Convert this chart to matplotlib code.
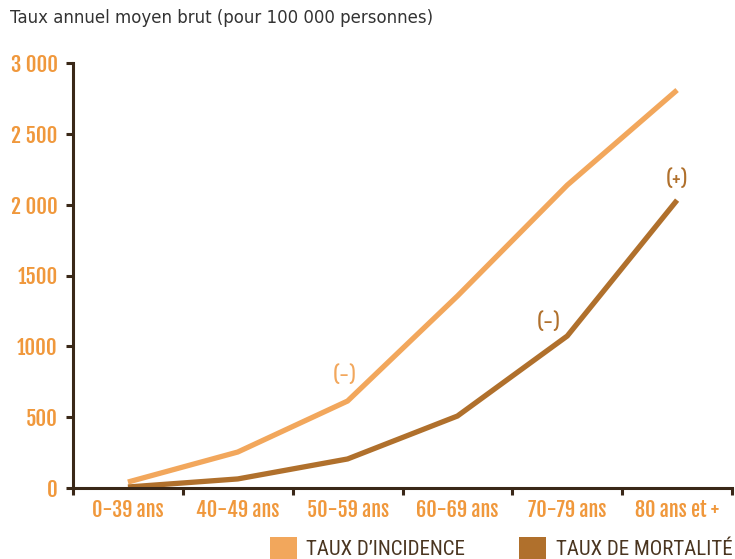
import matplotlib
matplotlib.use("Agg")
import matplotlib.pyplot as plt
from matplotlib.patches import Patch

COND = ["Fjalla One", "Oswald", "DejaVu Sans"]
LEG = ["Roboto Condensed", "DejaVu Sans"]

categories = ["0-39 ans", "40-49 ans", "50-59 ans", "60-69 ans", "70-79 ans", "80 ans et +"]
incidence = [42, 254, 614, 1355, 2138, 2809]
mortalite = [7, 64, 205, 508, 1073, 2032]
yticks = [0, 500, 1000, 1500, 2000, 2500, 3000]
ytick_labels = ["0", "500", "1000", "1500", "2 000", "2 500", "3 000"]
series_names = ["TAUX D\u2019INCIDENCE", "TAUX DE MORTALIT\u00c9"]
title = "Taux annuel moyen brut (pour 100 000 personnes)"

c_inc = "#F2A75C"
c_mort = "#B0702C"
c_lab = "#F0983C"
c_axis = "#3A2818"

fig = plt.figure(figsize=(7.35, 5.59), dpi=100)
ax = fig.add_axes([73/735, 1-488/559, (732-73)/735, (488-63)/559])

x = list(range(len(categories)))
ax.plot(x, incidence, color=c_inc, lw=3.8, solid_capstyle="butt", solid_joinstyle="miter")
ax.plot(x, mortalite, color=c_mort, lw=3.8, solid_capstyle="butt", solid_joinstyle="miter")

ax.set_xlim(-0.5, len(categories) - 0.5)
ax.set_ylim(0, 3000)
for s in ["top", "right"]:
    ax.spines[s].set_visible(False)
for s in ["left", "bottom"]:
    ax.spines[s].set_color(c_axis)
    ax.spines[s].set_linewidth(2.2)

ax.set_xticks([i - 0.5 for i in range(len(categories) + 1)])
ax.set_xticklabels([])
ax.set_xticks(x, minor=True)
ax.set_xticklabels(categories, minor=True, fontfamily=COND, fontsize=14.5, color=c_lab)
ax.tick_params(axis="x", which="major", length=5, width=2.2, color=c_axis, direction="out")
ax.tick_params(axis="x", which="minor", length=0, pad=8)

ax.set_yticks(yticks)
ax.set_yticklabels(ytick_labels, fontfamily=COND, fontsize=15, color=c_lab)
ax.tick_params(axis="y", length=5, width=2.2, color=c_axis, direction="out", pad=6)

ax.annotate("(-)", (x[2], incidence[2]), xytext=(-2, 11), textcoords="offset points",
            ha="center", va="bottom", fontfamily=COND, fontsize=14, color=c_inc)
ax.annotate("(-)", (x[4], mortalite[4]), xytext=(-13, 2), textcoords="offset points",
            ha="center", va="bottom", fontfamily=COND, fontsize=14, color=c_mort)
ax.annotate("(+)", (x[5], mortalite[5]), xytext=(0, 7), textcoords="offset points",
            ha="center", va="bottom", fontfamily=COND, fontsize=14, color=c_mort)

fig.text(10/735, 1-18/559, title, ha="left", va="center", fontsize=12, color="#333333")

handles = [Patch(facecolor=c_inc, edgecolor="none"), Patch(facecolor=c_mort, edgecolor="none")]
leg = fig.legend(handles, series_names, loc="lower right", bbox_to_anchor=(751/735, -19/559),
                 ncol=2, frameon=False, handlelength=1.3, handleheight=1.3, handletextpad=0.45,
                 columnspacing=2.6, prop={"family": LEG, "size": 15})
for t in leg.get_texts():
    t.set_color("#4A3520")

fig.savefig("out.png", dpi=100)
